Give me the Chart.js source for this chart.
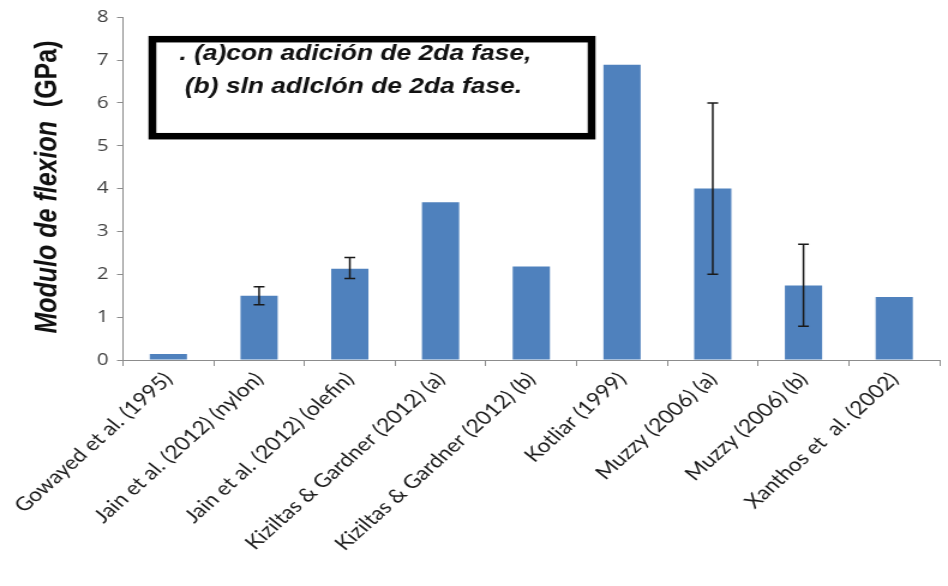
<!DOCTYPE html>
<html>
<head>
<meta charset="utf-8">
<script src="https://cdn.jsdelivr.net/npm/chart.js@4/dist/chart.umd.min.js"></script>
<style>
  html, body { margin: 0; padding: 0; background: #fff; }
  /* the reference is a horizontally stretched screenshot: draw narrower, show at full width */
  #js--chart { display: block; width: 948px !important; height: 586px !important; }
</style>
</head>
<body>
<canvas id="js--chart" width="790" height="586"></canvas>
<script>
const studies = ['Gowayed et al. (1995)', 'Jain et al. (2012) (nylon)', 'Jain et al. (2012) (olefin)',
    'Kiziltas & Gardner (2012) (a)', 'Kiziltas & Gardner (2012) (b)', 'Kotliar (1999)',
    'Muzzy (2006) (a)', 'Muzzy (2006) (b)', 'Xanthos et  al. (2002)'];
const modulus = [0.14, 1.5, 2.13, 3.68, 2.18, 6.89, 4.0, 1.74, 1.47];
const errLow = [null, 1.29, 1.9, null, null, null, 2.0, 0.79, null];
const errHigh = [null, 1.71, 2.39, null, null, null, 6.0, 2.7, null];
const yTicks = [0, 1, 2, 3, 4, 5, 6, 7, 8];
const noteLines = ['. (a)con adición de 2da fase,', '(b) sln adlclón de 2da fase.'];
const yTitleItalic = 'Modulo de flexion';
const yTitleUnit = '(GPa)';

const axisGray = '#8c8c8c';

// error bars drawn on top of the bars
const errorBars = {
    id: 'errorBars',
    afterDatasetsDraw(chart) {
        const ctx = chart.ctx;
        const meta = chart.getDatasetMeta(0);
        const y = chart.scales.y;
        ctx.save();
        ctx.strokeStyle = '#1a1a1a';
        ctx.lineWidth = 1.5;
        meta.data.forEach((bar, i) => {
            if (errLow[i] == null) return;
            const top = y.getPixelForValue(errHigh[i]);
            const bot = y.getPixelForValue(errLow[i]);
            ctx.beginPath();
            ctx.moveTo(bar.x, top);
            ctx.lineTo(bar.x, bot);
            ctx.moveTo(bar.x - 4.5, top);
            ctx.lineTo(bar.x + 4.5, top);
            ctx.moveTo(bar.x - 4.5, bot);
            ctx.lineTo(bar.x + 4.5, bot);
            ctx.stroke();
        });
        ctx.restore();
    }
};

// note box + y title with mixed styles
const decorations = {
    id: 'decorations',
    afterDraw(chart) {
        const ctx = chart.ctx;
        const area = chart.chartArea;
        ctx.save();

        // boxed note
        const bx = area.left + 24.5, by = area.top + 22;
        ctx.lineWidth = 6.5;
        ctx.strokeStyle = '#000';
        ctx.strokeRect(bx, by, 366, 97);
        ctx.fillStyle = '#111';
        ctx.font = 'italic bold 22px "Liberation Sans", Arial, sans-serif';
        ctx.textBaseline = 'alphabetic';
        ctx.fillText(noteLines[0], area.left + 47, area.top + 43);
        ctx.fillText(noteLines[1], area.left + 51.5, area.top + 76);

        // y axis title
        ctx.translate(47, 187);
        ctx.rotate(-Math.PI / 2);
        const f1 = 'italic bold 25px "Liberation Sans", Arial, sans-serif';
        const f2 = 'bold 25px "Liberation Sans", Arial, sans-serif';
        ctx.font = f1;
        const w1 = ctx.measureText(yTitleItalic + '  ').width;
        ctx.font = f2;
        const w2 = ctx.measureText(yTitleUnit).width;
        const x0 = -(w1 + w2) / 2;
        ctx.fillStyle = '#111';
        ctx.font = f1;
        ctx.fillText(yTitleItalic, x0, 0);
        ctx.font = f2;
        ctx.fillText(yTitleUnit, x0 + w1, 0);
        ctx.restore();
    }
};

new Chart(document.getElementById('js--chart'), {
    type: 'bar',
    data: {
        labels: studies,
        datasets: [{
            data: modulus,
            backgroundColor: '#4f81bd',
            barPercentage: 0.41,
            categoryPercentage: 1
        }]
    },
    options: {
        responsive: false,
        animation: false,
        devicePixelRatio: 1,
        layout: { padding: { top: 8, right: 7, left: 0, bottom: 0 } },
        plugins: {
            legend: { display: false },
            tooltip: { enabled: false }
        },
        scales: {
            x: {
                grid: { drawOnChartArea: false, offset: true, color: axisGray, tickLength: 6 },
                border: { color: axisGray, width: 1 },
                ticks: {
                    font: { family: 'Lato', size: 19 },
                    color: '#1a1a1a',
                    minRotation: 47,
                    maxRotation: 47,
                    autoSkip: false,
                    padding: 2
                },
                afterFit: s => { s.height = 226; }
            },
            y: {
                min: 0,
                max: 8,
                afterBuildTicks: s => { s.ticks = yTicks.map(v => ({ value: v })); },
                grid: { drawOnChartArea: false, color: axisGray, tickLength: 5 },
                border: { color: axisGray, width: 1 },
                ticks: {
                    font: { family: 'Open Sans', size: 17 },
                    color: '#404040',
                    padding: 7
                },
                afterFit: s => { s.width = 102.5; }
            }
        }
    },
    plugins: [errorBars, decorations]
});
</script>
</body>
</html>
